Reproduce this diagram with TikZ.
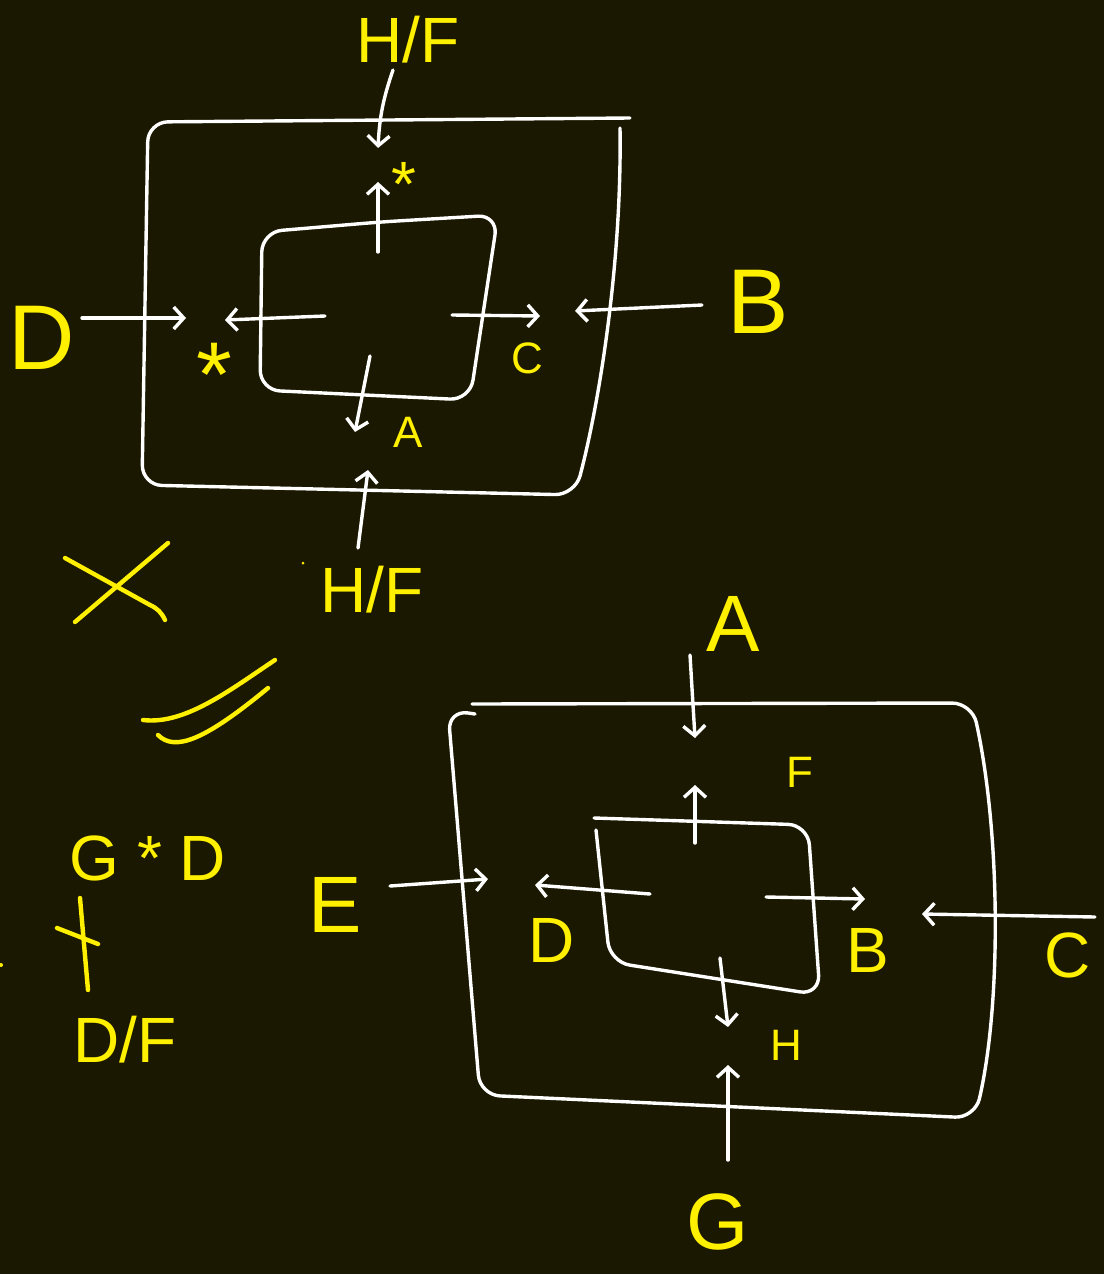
\documentclass[tikz,border=0pt]{standalone}
\usepackage{fontspec}
\setmainfont{Liberation Sans}
\usetikzlibrary{arrows.meta}
\definecolor{board}{RGB}{26,24,0}
\definecolor{chalk}{RGB}{255,255,255}
\definecolor{marker}{RGB}{255,240,0}

\begin{document}
\begin{tikzpicture}[x=0.5pt,y=-0.5pt,>={Straight Barb[length=5pt,width=11pt]},
	wall/.style={draw=chalk,line width=1.7pt,line cap=round,line join=round,rounded corners=10pt},
	flow/.style={draw=chalk,line width=1.7pt,line cap=round,->},
	ink/.style={draw=marker,line width=2.2pt,line cap=round},
	hugetag/.style={text=marker,inner sep=0pt,font=\fontsize{46}{46}\selectfont},
	bigtag/.style={text=marker,inner sep=0pt,font=\fontsize{40}{40}\selectfont},
	midtag/.style={text=marker,inner sep=0pt,font=\fontsize{32}{32}\selectfont},
	smalltag/.style={text=marker,inner sep=0pt,font=\fontsize{22}{22}\selectfont}]
			
			% board
			\fill[board] (0,0) rectangle (1104,1274);
			\useasboundingbox (0,0) rectangle (1104,1274);
			
			% upper sketch: boxes
			\draw[wall] (630,118) -- (148,122) -- (142,485) -- (575,495) .. controls (600,400) and (622,260) .. (620,128);
			\draw[wall] (380,222) -- (498,215) -- (470,400) -- (260,390) -- (262,232) -- cycle;
			
			% upper sketch: labels
			\node[midtag] (uHFtop) at (408,40) {H/F};
			\node[hugetag] (uD) at (42,338) {D};
			\node[hugetag] (uB) at (758,302) {B};
			\node[midtag] (uHFbot) at (372,590) {H/F};
			\node[midtag] (uStarTop) at (404,184) {*};
			\node[hugetag] (uStarLeft) at (214,375) {*};
			\node[smalltag] (uC) at (527,358) {C};
			\node[smalltag] (uA) at (408,432) {A};
			
			% upper sketch: arrow ends
			\coordinate (uTa) at (393,70);   \coordinate (uTb) at (378,148);
			\coordinate (uDa) at (82,318);   \coordinate (uDb) at (186,318);
			\coordinate (uBa) at (702,305);  \coordinate (uBb) at (575,311);
			\coordinate (uUpa) at (358,548); \coordinate (uUpb) at (368,470);
			\coordinate (uNa) at (378,252);  \coordinate (uNb) at (378,182);
			\coordinate (uWa) at (325,316);  \coordinate (uWb) at (225,320);
			\coordinate (uEa) at (452,315);  \coordinate (uEb) at (540,316);
			\coordinate (uSa) at (370,356);  \coordinate (uSb) at (355,432);
			
			\draw[flow] (uTa) to[bend right=8] (uTb);
			\draw[flow] (uDa) -- (uDb);
			\draw[flow] (uBa) -- (uBb);
			\draw[flow] (uUpa) -- (uUpb);
			\draw[flow] (uNa) -- (uNb);
			\draw[flow] (uWa) -- (uWb);
			\draw[flow] (uEa) -- (uEb);
			\draw[flow] (uSa) -- (uSb);
			
			% side notes
			\draw[ink] (65,558) -- (150,605) to[bend left=20] (165,620);
			\draw[ink] (75,622) -- (168,543);
			\draw[ink] (143,720) .. controls (185,725) and (230,690) .. (275,660);
			\draw[ink] (158,735) .. controls (175,752) and (205,740) .. (268,688);
			\fill[marker] (303,563) circle (1.5);
			\fill[marker] (1,965) circle (2);
			
			\node[midtag] (sGD) at (148,858) {G * D};
			\coordinate (sVa) at (80,898);  \coordinate (sVb) at (88,990);
			\coordinate (sXa) at (57,928);  \coordinate (sXb) at (98,944);
			\draw[ink] (sVa) -- (sVb);
			\draw[ink] (sXa) -- (sXb);
			\node[midtag] (sDF) at (125,1040) {D/F};
			
			% lower sketch: boxes
			\draw[wall] (472,704) -- (972,703) .. controls (1000,830) and (1002,1000) .. (975,1118) -- (480,1095) -- (448,710) -- (475,714);
			\draw[wall] (594,818) -- (808,825) -- (820,995) -- (610,962) -- (596,830);
			
			% lower sketch: labels
			\node[bigtag] (lA) at (733,624) {A};
			\node[smalltag] (lF) at (800,772) {F};
			\node[bigtag] (lE) at (335,905) {E};
			\node[midtag] (lD) at (552,940) {D};
			\node[midtag] (lB) at (868,950) {B};
			\node[midtag] (lC) at (1068,955) {C};
			\node[smalltag] (lH) at (786,1045) {H};
			\node[bigtag] (lG) at (718,1222) {G};
			
			% lower sketch: arrow ends
			\coordinate (lAa) at (690,655);  \coordinate (lAb) at (695,738);
			\coordinate (lFa) at (695,843);  \coordinate (lFb) at (695,785);
			\coordinate (lEa) at (390,886);  \coordinate (lEb) at (488,879);
			\coordinate (lDa) at (650,894);  \coordinate (lDb) at (535,885);
			\coordinate (lBa) at (766,897);  \coordinate (lBb) at (865,899);
			\coordinate (lCa) at (1095,917); \coordinate (lCb) at (922,914);
			\coordinate (lHa) at (720,958);  \coordinate (lHb) at (728,1027);
			\coordinate (lGa) at (728,1160); \coordinate (lGb) at (728,1065);
			
			\draw[flow] (lAa) -- (lAb);
			\draw[flow] (lFa) -- (lFb);
			\draw[flow] (lEa) -- (lEb);
			\draw[flow] (lDa) -- (lDb);
			\draw[flow] (lBa) -- (lBb);
			\draw[flow] (lCa) -- (lCb);
			\draw[flow] (lHa) -- (lHb);
			\draw[flow] (lGa) -- (lGb);
			
		\end{tikzpicture}
\end{document}
